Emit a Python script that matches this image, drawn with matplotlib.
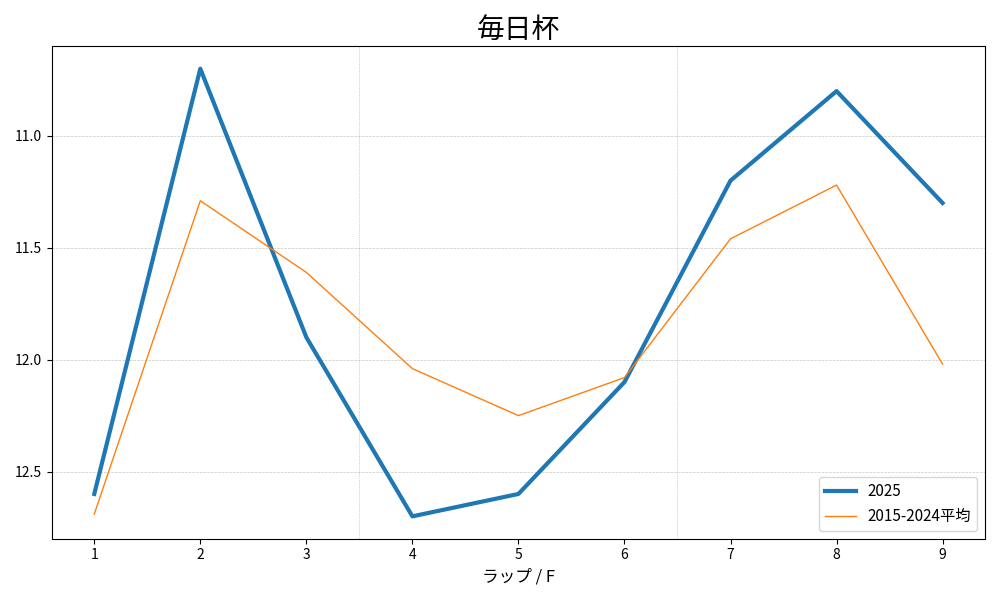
import matplotlib
matplotlib.use("Agg")
import matplotlib.pyplot as plt
from matplotlib.ticker import MultipleLocator, FormatStrFormatter

plt.rcParams["font.family"] = ["Noto Sans CJK JP", "DejaVu Sans"]

laps = [1, 2, 3, 4, 5, 6, 7, 8, 9]
times_2025 = [12.60, 10.70, 11.90, 12.70, 12.60, 12.10, 11.20, 10.80, 11.30]
times_avg = [12.69, 11.29, 11.61, 12.04, 12.25, 12.08, 11.46, 11.22, 12.02]
section_marks = [3.5, 6.5]

fig, ax = plt.subplots(figsize=(10, 6), dpi=100)
ax.plot(laps, times_2025, color="#1f77b4", linewidth=3, label="2025")
ax.plot(laps, times_avg, color="#ff7f0e", linewidth=1, label="2015-2024平均")

for x in section_marks:
    ax.axvline(x, color="gray", linestyle=":", linewidth=0.5, alpha=0.7)

ax.invert_yaxis()
ax.set_xticks(laps)
ax.yaxis.set_major_locator(MultipleLocator(0.5))
ax.yaxis.set_major_formatter(FormatStrFormatter("%.1f"))
ax.grid(axis="y", linestyle="--", linewidth=0.5, alpha=0.7)
ax.set_title("毎日杯", fontsize=20)
ax.set_xlabel("ラップ / F", fontsize=12)
ax.legend(loc="lower right", fontsize=11)

plt.tight_layout()
plt.savefig("out.png")
